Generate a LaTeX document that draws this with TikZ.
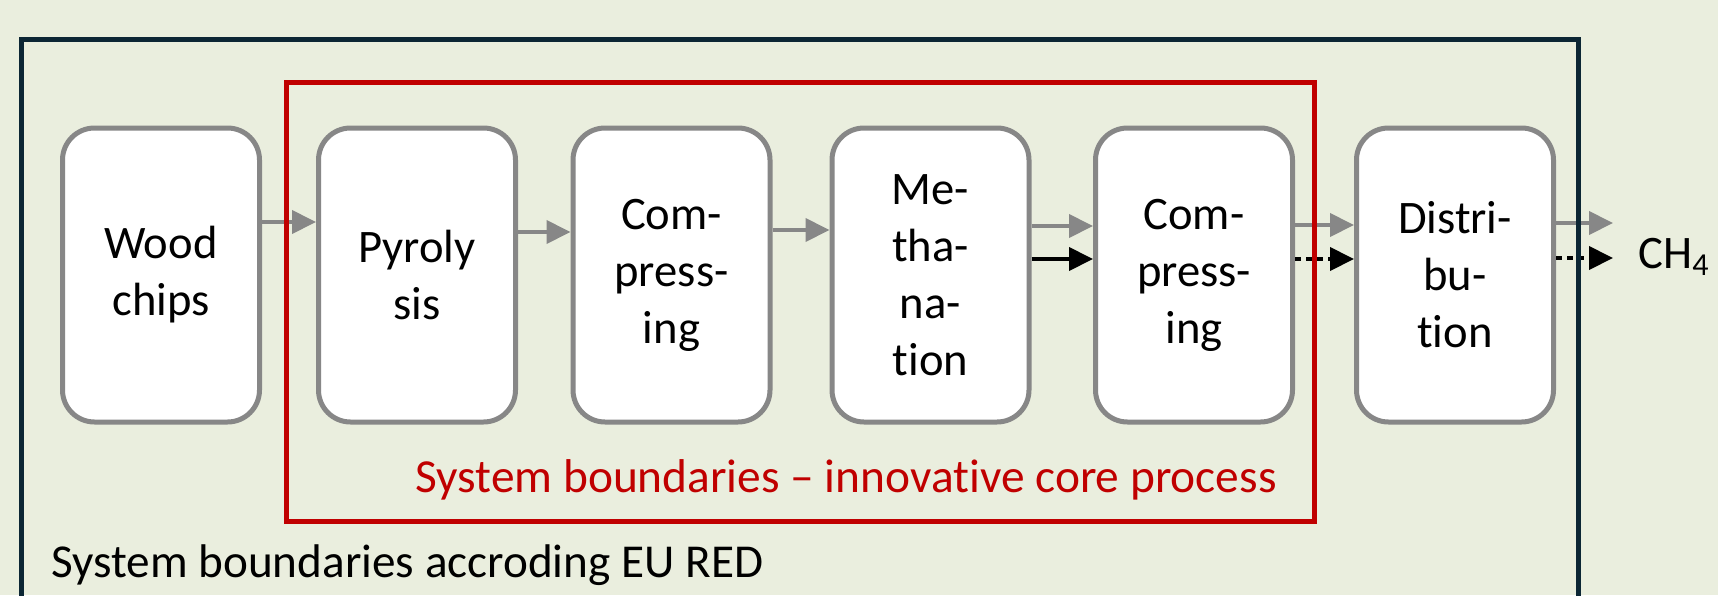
\documentclass[tikz,border=0pt]{standalone}
\usepackage{fontspec}
\setmainfont{Carlito}[RawFeature=-liga]
\usetikzlibrary{arrows.meta}
\definecolor{bgcol}{RGB}{234,238,222}
\definecolor{framecol}{RGB}{12,38,52}
\definecolor{corered}{RGB}{192,0,0}
\definecolor{stepgray}{RGB}{135,135,135}
\begin{document}
\begin{tikzpicture}[x=0.5pt, y=-0.5pt, font={\fontsize{23.3}{28.5}\selectfont},
  stepbox/.style={draw=stepgray, line width=2.5pt, fill=white, rounded corners=16pt,
    minimum width=98.5pt, minimum height=147pt, align=center, inner sep=0pt},
  flow/.style={draw=stepgray, line width=2pt, -{Triangle[length=12pt,width=11.5pt]}},
  gasflow/.style={draw=black, line width=2pt, -{Triangle[length=12pt,width=11.5pt]}},
  gasdash/.style={gasflow, dash pattern=on 3pt off 2.5pt}]

\useasboundingbox (0,0) rectangle (1718,595);
\fill[bgcol] (0,0) rectangle (1718,595);

\node[stepbox] (wood) at (161,275) {Wood\\chips};
\node[stepbox] (pyro) at (417,275) {Pyroly\\sis};
\node[stepbox] (comp1) at (671.5,275) {Com-\\press-\\ing};
\node[stepbox] (meth) at (930.5,275) {Me-\\tha-\\na-\\tion};
\node[stepbox] (comp2) at (1194,275) {Com-\\press-\\ing};
\node[stepbox] (distr) at (1455,275) {Distri-\\bu-\\tion};
\node[anchor=base west, inner sep=0pt] (ch4) at (1638,268)
  {CH\raisebox{-0.35ex}{\fontsize{16}{16}\selectfont 4}};
\coordinate (ch4in) at ([xshift=-12.5pt]ch4.west);

\draw[flow] (wood.east |- 0,222) -- (pyro.west |- 0,222);
\draw[flow] (pyro.east |- 0,232) -- (comp1.west |- 0,232);
\draw[flow] (comp1.east |- 0,230) -- (meth.west |- 0,230);
\draw[flow] (meth.east |- 0,226) -- (comp2.west |- 0,226);
\draw[gasflow] (meth.east |- 0,259) -- (comp2.west |- 0,259);
\draw[flow] (comp2.east |- 0,225) -- (distr.west |- 0,225);
\draw[gasdash] (comp2.east |- 0,259) -- (distr.west |- 0,259);
\draw[flow] (distr.east |- 0,223) -- (ch4in |- 0,223);
\draw[gasdash] (distr.east |- 0,258) -- (ch4in |- 0,258);

\draw[framecol, line width=2.5pt] (21,600) -- (21,39) -- (1578,39) -- (1578,600);
\draw[corered, line width=2.5pt] (286,82) rectangle (1314,521);

\node[anchor=base west, inner sep=0pt, text=corered, font={\fontsize{23.7}{28}\selectfont}] (corelabel) at (415,492)
  {System boundaries – innovative core process};
\node[anchor=base west, inner sep=0pt, font={\fontsize{23.6}{28}\selectfont}] (redlabel) at (51,577)
  {System boundaries accroding EU RED};
\end{tikzpicture}
\end{document}
